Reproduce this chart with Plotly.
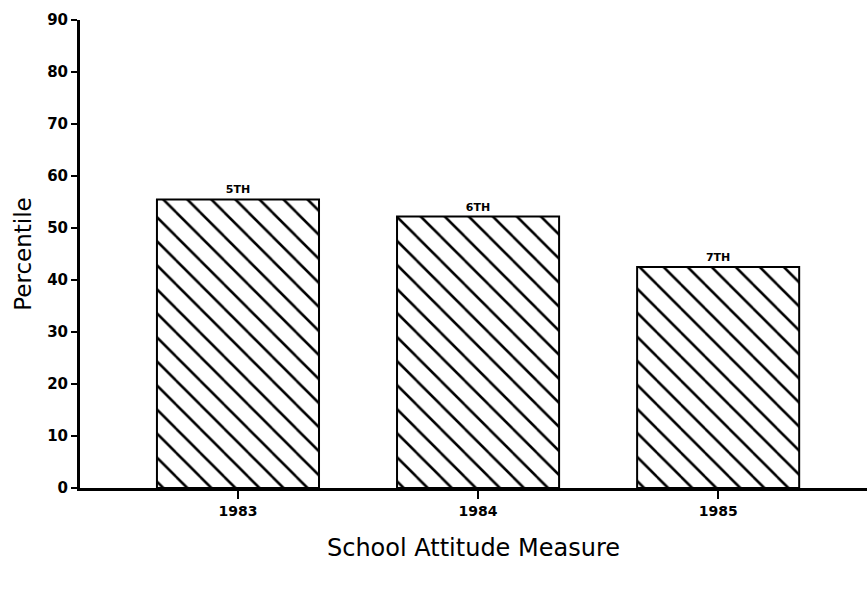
import plotly.graph_objects as go

years = ["1983", "1984", "1985"]
percentiles = [55.5, 52.2, 42.5]
grade_labels = ["5TH", "6TH", "7TH"]
y_ticks = [0, 10, 20, 30, 40, 50, 60, 70, 80, 90]

fig = go.Figure()
fig.add_trace(go.Bar(
    x=years, y=percentiles,
    text=grade_labels, textposition="outside",
    textfont=dict(family="DejaVu Sans", size=11, color="black", weight="bold"),
    cliponaxis=False,
    width=0.675,
    marker=dict(
        color="white",
        line=dict(color="black", width=2),
        pattern=dict(shape="\\", size=17, solidity=0.15, fgcolor="black", bgcolor="white", fgopacity=1),
    ),
))

fig.update_layout(
    width=867, height=593,
    margin=dict(l=80, r=0, t=20, b=105),
    plot_bgcolor="white", paper_bgcolor="white",
    showlegend=False,
    font=dict(family="DejaVu Sans", color="black"),
)
fig.update_xaxes(
    type="category",
    range=[-0.658, 2.62],
    showline=True, linecolor="black", linewidth=3,
    ticks="outside", ticklen=8, tickwidth=2, tickcolor="black",
    tickfont=dict(family="DejaVu Sans", size=14, color="black", weight="bold"),
    title=dict(text="School Attitude Measure", font=dict(family="DejaVu Sans", size=24), standoff=22),
    showgrid=False, zeroline=False,
)
fig.update_yaxes(
    range=[0, 90],
    tickvals=y_ticks,
    showline=True, linecolor="black", linewidth=3,
    ticks="outside", ticklen=6, tickwidth=2, tickcolor="black",
    tickfont=dict(family="DejaVu Sans", size=15, color="black", weight="bold"),
    title=dict(text="Percentile", font=dict(family="DejaVu Sans", size=23), standoff=10),
    showgrid=False, zeroline=False,
)

fig.write_html(
    "out.html",
    config={"displayModeBar": False},
    post_script="document.body.style.margin='0';document.body.style.overflow='hidden';",
)
